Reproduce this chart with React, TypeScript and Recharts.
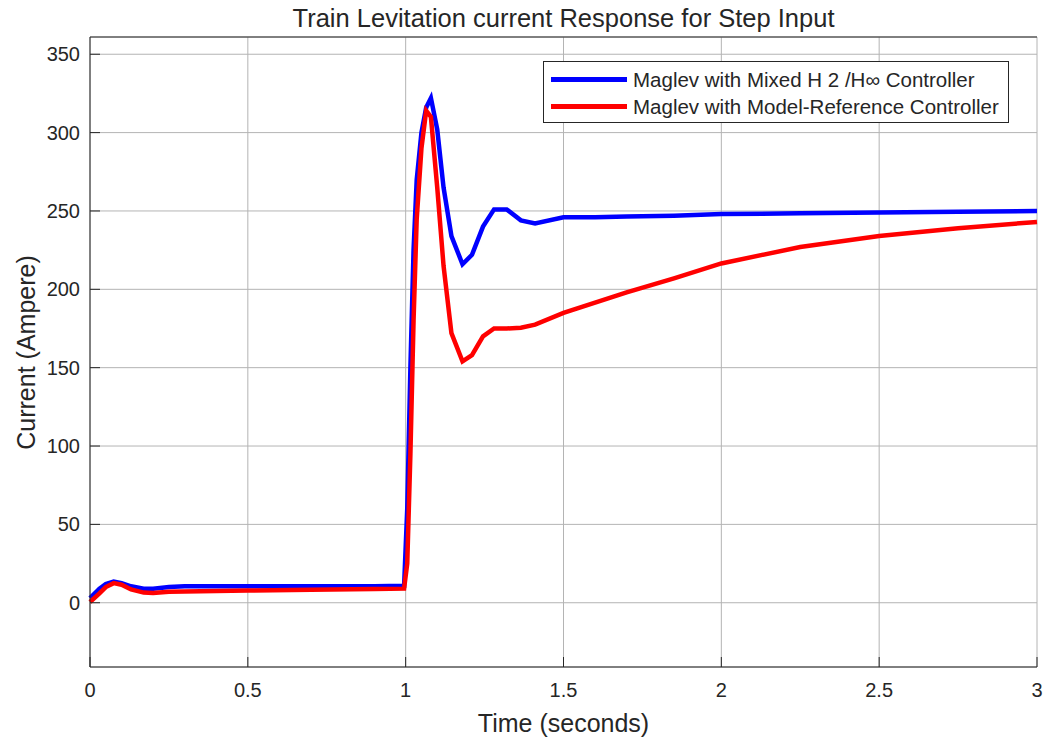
import React from 'react';
import {
  LineChart,
  Line,
  XAxis,
  YAxis,
  CartesianGrid,
  Legend,
  ReferenceLine,
} from 'recharts';

// time samples (seconds)
const timeSec = [
  0, 0.03, 0.05, 0.075, 0.1, 0.13, 0.17, 0.2, 0.25, 0.3, 0.4, 0.5, 0.7, 0.9, 0.995,
  1.005, 1.015, 1.025, 1.035, 1.05, 1.065, 1.08, 1.1, 1.12, 1.145, 1.18, 1.21, 1.245,
  1.28, 1.32, 1.365, 1.41, 1.5, 1.6, 1.7, 1.85, 2, 2.25, 2.5, 2.75, 3,
];

// Maglev with Mixed H2/Hinf controller
const mixedH2Hinf = [
  3, 9, 12, 13.5, 12.5, 10.5, 9, 9, 10, 10.5, 10.5, 10.5, 10.5, 10.5, 10.8,
  60, 150, 225, 270, 300, 316, 322, 302, 265, 234, 216, 222, 240,
  251, 251, 244, 242, 246, 246, 246.5, 247, 248, 248.5, 249, 249.5, 250,
];

// Maglev with model-reference controller
const modelReference = [
  0.5, 6, 10, 12.5, 11.5, 8.5, 6.5, 6.2, 7, 7.2, 7.5, 7.8, 8.3, 8.8, 9,
  25, 95, 180, 245, 290, 314, 310, 265, 215, 172, 154, 158, 170,
  175, 175, 175.5, 177.5, 185, 191.5, 198, 207, 216.5, 227, 234, 239, 243,
];

const xTicks = [0, 0.5, 1, 1.5, 2, 2.5, 3];
const yTicks = [0, 50, 100, 150, 200, 250, 300, 350];
const yDomain = [-41, 361];

const seriesNames = [
  'Maglev with Mixed H 2 /H\u221E Controller',
  'Maglev with Model-Reference Controller',
];

const data = timeSec.map((t, i) => ({
  t,
  mixed: mixedH2Hinf[i],
  model: modelReference[i],
}));

const FONT = '"Liberation Sans", Arial, sans-serif';
const INK = '#262626';

const LegendBox = () => (
  <div
    style={{
      width: 466,
      height: 62,
      border: `1px solid ${INK}`,
      background: '#fff',
      fontFamily: FONT,
      fontSize: 20.5,
      color: INK,
      boxSizing: 'border-box',
      paddingTop: 4,
    }}
  >
    {[
      { name: seriesNames[0], color: '#0000ff' },
      { name: seriesNames[1], color: '#ff0000' },
    ].map((s) => (
      <div key={s.name} style={{ display: 'flex', alignItems: 'center', height: 27 }}>
        <div style={{ width: 76, height: 5, background: s.color, marginLeft: 7, marginRight: 6 }} />
        <span style={{ whiteSpace: 'nowrap' }}>{s.name}</span>
      </div>
    ))}
  </div>
);

export default function App() {
  const tickStyle = { fontFamily: FONT, fontSize: 20, fill: INK };
  return (
    <div style={{ position: 'absolute', left: 0, top: 0, width: 1044, height: 738, background: '#fff' }}>
      <LineChart
        width={1044}
        height={738}
        data={data}
        margin={{ top: 37, right: 7, left: 0, bottom: 0 }}
      >
        <CartesianGrid stroke="#b4b4b4" strokeWidth={1} />
        <XAxis
          dataKey="t"
          type="number"
          domain={[0, 3]}
          ticks={xTicks}
          height={71}
          tickSize={-10}
          tickMargin={26}
          stroke={INK}
          tick={tickStyle}
          interval={0}
        />
        <XAxis
          xAxisId="top"
          orientation="top"
          dataKey="t"
          type="number"
          domain={[0, 3]}
          ticks={xTicks}
          height={0}
          tickSize={-10}
          stroke={INK}
          tick={false}
        />
        <YAxis
          type="number"
          domain={yDomain}
          ticks={yTicks}
          width={90}
          tickSize={-10}
          tickMargin={20}
          stroke={INK}
          tick={tickStyle}
          interval={0}
        />
        <YAxis
          yAxisId="right"
          orientation="right"
          type="number"
          domain={yDomain}
          ticks={yTicks}
          width={0}
          tickSize={-10}
          stroke={INK}
          tick={false}
        />
        {/* top edge of the axes box */}
        <ReferenceLine y={yDomain[1]} stroke={INK} strokeWidth={1} />
        <Line
          type="linear"
          dataKey="mixed"
          name={seriesNames[0]}
          stroke="#0000ff"
          strokeWidth={4.5}
          dot={false}
          isAnimationActive={false}
        />
        <Line
          type="linear"
          dataKey="model"
          name={seriesNames[1]}
          stroke="#ff0000"
          strokeWidth={4.5}
          dot={false}
          isAnimationActive={false}
        />
        <Legend
          layout="horizontal"
          verticalAlign="middle"
          align="center"
          content={() => <LegendBox />}
          wrapperStyle={{ left: 543, top: 61, width: 466, height: 62 }}
        />
      </LineChart>
      <div
        style={{
          position: 'absolute',
          left: 0,
          top: 6,
          width: 1127,
          textAlign: 'center',
          fontFamily: FONT,
          fontSize: 25.5,
          lineHeight: '25px',
          color: INK,
          whiteSpace: 'nowrap',
        }}
      >
        Train Levitation current Response for Step Input
      </div>
      <div
        style={{
          position: 'absolute',
          left: 90,
          top: 711,
          width: 947,
          textAlign: 'center',
          fontFamily: FONT,
          fontSize: 25,
          lineHeight: '25px',
          color: INK,
          whiteSpace: 'nowrap',
        }}
      >
        Time (seconds)
      </div>
      <div
        style={{
          position: 'absolute',
          left: 26 - 150,
          top: 352 - 12.5,
          width: 300,
          height: 25,
          textAlign: 'center',
          fontFamily: FONT,
          fontSize: 25,
          lineHeight: '25px',
          color: INK,
          whiteSpace: 'nowrap',
          transform: 'rotate(-90deg)',
        }}
      >
        Current (Ampere)
      </div>
    </div>
  );
}
